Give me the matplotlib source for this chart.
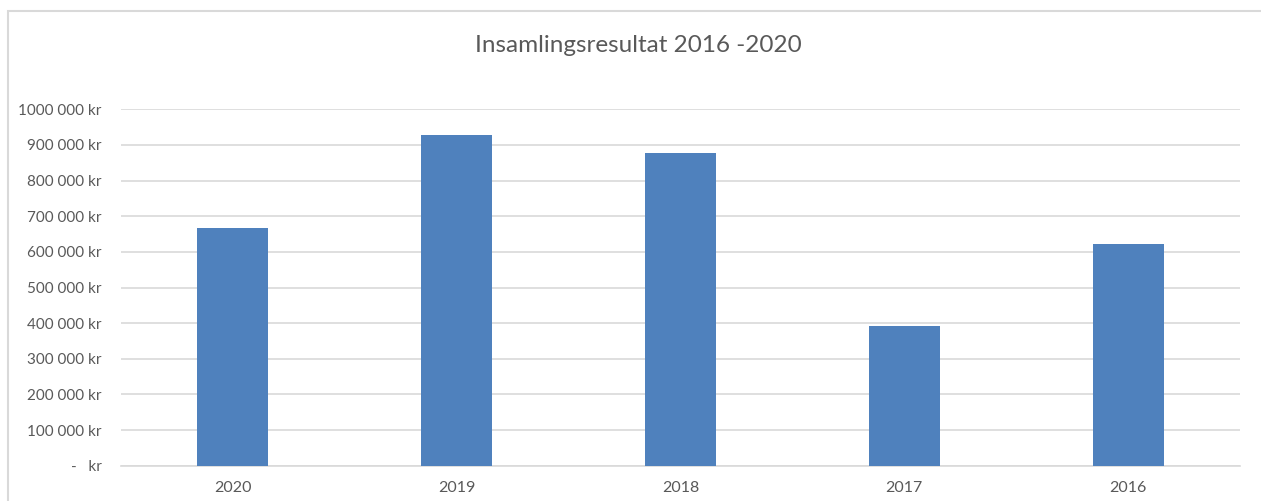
import matplotlib
matplotlib.use("Agg")
from matplotlib import pyplot as plt
from matplotlib.patches import Rectangle
import numpy as np

plt.rcParams['font.family'] = ['Lato', 'DejaVu Sans']

years = ['2020', '2019', '2018', '2017', '2016']
amounts = [667000, 928000, 878000, 391000, 623000]
yticks = np.arange(0, 1000001, 100000)


def kr_label(v):
    # Excel style: "900 000 kr", zero shown as "-   kr"
    if v == 0:
        return '-   kr'
    s = '{:,}'.format(int(v)).replace(',', ' ')
    if v >= 1000000:
        s = s.replace(' ', '', 1)
    return s + ' kr'


grey = '#595959'
W, H = 1261, 501
fig = plt.figure(figsize=(W / 100, H / 100), dpi=100)

# chart frame (only top/left edges visible in the crop)
fig.patches.append(Rectangle((7.5 / W, -0.2), 1.2, 1.2 - 10.5 / H, transform=fig.transFigure,
                             fill=False, edgecolor='#d9d9d9', linewidth=1.5))

ax = fig.add_axes([121 / W, 1 - 465.7 / H, (1240 - 121) / W, (465.7 - 109.3) / H])
x = np.arange(len(years))
ax.bar(x, amounts, width=0.317, color='#4F81BD', zorder=3)

ax.set_xlim(-0.5, len(years) - 0.5)
ax.set_ylim(0, 1000000)
ax.set_yticks(yticks)
ax.set_yticklabels([kr_label(v) for v in yticks])
ax.set_xticks(x)
ax.set_xticklabels(years)
ax.grid(axis='y', color='#d9d9d9', linewidth=1.2, zorder=0)
for side in ['top', 'right', 'left']:
    ax.spines[side].set_visible(False)
ax.spines['bottom'].set_color('#d9d9d9')
ax.spines['bottom'].set_linewidth(1.2)
ax.tick_params(axis='y', length=0, pad=14, labelsize=11, labelcolor=grey)
ax.tick_params(axis='x', length=0, pad=11, labelsize=11.5, labelcolor=grey)

fig.text(638 / W, 1 - 45 / H, 'Insamlingsresultat 2016 -2020', ha='center', va='center',
         fontsize=17.5, color=grey)

fig.savefig('out.png', dpi=100)
